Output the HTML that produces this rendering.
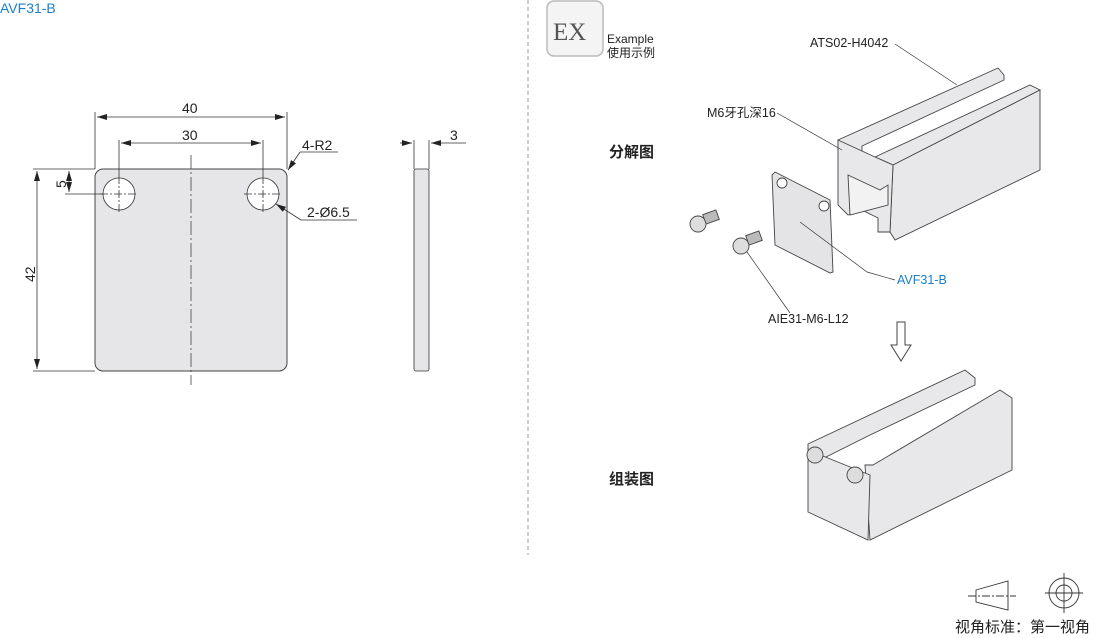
<!DOCTYPE html>
<html><head><meta charset="utf-8"><style>
html,body{margin:0;padding:0;background:#fff;}
svg{display:block;font-family:"Liberation Sans","Noto Sans CJK SC",sans-serif;}
</style></head><body>
<svg width="1110" height="638" viewBox="0 0 1110 638" xmlns="http://www.w3.org/2000/svg">
<defs>
<marker id="a" viewBox="0 0 10 6" refX="10" refY="3" markerWidth="10" markerHeight="6" orient="auto-start-reverse" markerUnits="userSpaceOnUse"><path d="M0,0L10,3L0,6z" fill="#222"/></marker>
</defs>
<text x="0" y="13" font-size="14" fill="#1a7fc8">AVF31-B</text>
<line x1="528" y1="0" x2="528" y2="555" stroke="#999" stroke-dasharray="4,3"/>
<rect x="95" y="169" width="192" height="202" rx="8" fill="#e6e6e8" stroke="#444" stroke-width="1"/>
<line x1="191" y1="155" x2="191" y2="385" stroke="#444" stroke-width="0.8" stroke-dasharray="14,3,2,3"/>
<g stroke="#333" stroke-width="0.8">
<circle cx="119" cy="194" r="16" fill="#fff"/><circle cx="263" cy="194" r="16" fill="#fff"/>
<line x1="100" y1="194" x2="138" y2="194" stroke-dasharray="8,2,2,2"/><line x1="119" y1="176" x2="119" y2="212" stroke-dasharray="8,2,2,2"/>
<line x1="244" y1="194" x2="282" y2="194" stroke-dasharray="8,2,2,2"/><line x1="263" y1="176" x2="263" y2="212" stroke-dasharray="8,2,2,2"/>
<line x1="95" y1="112" x2="95" y2="169"/><line x1="287" y1="112" x2="287" y2="169"/>
<line x1="97" y1="117" x2="285" y2="117" marker-start="url(#a)" marker-end="url(#a)"/>
<line x1="119" y1="140" x2="119" y2="176"/><line x1="263" y1="140" x2="263" y2="176"/>
<line x1="121" y1="143" x2="261" y2="143" marker-start="url(#a)" marker-end="url(#a)"/>
<line x1="33" y1="169" x2="95" y2="169"/><line x1="33" y1="371" x2="95" y2="371"/>
<line x1="37" y1="171" x2="37" y2="369" marker-start="url(#a)" marker-end="url(#a)"/>
<line x1="65" y1="194" x2="103" y2="194"/>
<line x1="69" y1="171" x2="69" y2="192" marker-start="url(#a)" marker-end="url(#a)"/>
<line x1="338" y1="152" x2="300" y2="152"/><line x1="300" y1="152" x2="288" y2="170" marker-end="url(#a)"/>
<line x1="357" y1="220" x2="301" y2="220"/><line x1="301" y1="220" x2="276" y2="204" marker-end="url(#a)"/>
<rect x="414" y="169" width="15" height="202" rx="2" fill="#e6e6e8"/>
<line x1="414" y1="140" x2="414" y2="169"/><line x1="429" y1="140" x2="429" y2="169"/>
<line x1="400" y1="143" x2="412" y2="143" marker-end="url(#a)"/><line x1="466" y1="143" x2="431" y2="143" marker-end="url(#a)"/>
</g>
<g font-size="14" fill="#222">
<text x="182" y="113">40</text><text x="182" y="140">30</text>
<text x="302" y="150">4-R2</text><text x="307" y="217">2-Ø6.5</text>
<text x="450" y="140">3</text>
<text transform="translate(35,282) rotate(-90)">42</text>
<text transform="translate(66,188) rotate(-90)">5</text>
</g>
<rect x="547" y="1" width="56" height="55" rx="7" fill="#f4f4f4" stroke="#bbb" stroke-width="1.5"/>
<text x="553" y="40" font-family="Liberation Serif,serif" font-size="25" fill="#555">EX</text>
<text x="607" y="43" font-size="12" fill="#222">Example</text>
<text x="607" y="57" font-size="12" fill="#222">使用示例</text>
<text x="609" y="157" font-size="15" font-weight="bold" fill="#222">分解图</text>
<text x="609" y="484" font-size="15" font-weight="bold" fill="#222">组装图</text>
<g stroke="#444" stroke-width="0.9" fill="#e8e8ea">
<polygon points="838,140 998,68 1004,75 1004,80 862,146 862,155 848,155 838,150"/>
<polygon points="875,157 1030,85 1040,90 893,165"/>
<polygon points="893,165 1040,90 1040,170 895,240 890,232"/>
<polygon points="838,140 875,157 893,165 890,232 878,232 878,218 862,210 848,215 838,205"/>
<polygon points="848,175 880,190 888,185 888,205 850,215" fill="#f2f2f2"/>
<polygon points="775,172 830,200 833,272 830,273 775,245 772,175" fill="#e4e4e6"/>
<circle cx="782" cy="183" r="5" fill="#fff"/><circle cx="824" cy="206" r="5" fill="#fff"/>
<circle cx="698" cy="224" r="8" fill="#ddd"/><rect x="704" y="212" width="14" height="10" fill="#bbb" transform="rotate(-20 711 217)"/>
<circle cx="741" cy="246" r="8" fill="#ddd"/><rect x="747" y="233" width="14" height="10" fill="#bbb" transform="rotate(-20 754 238)"/>
</g>
<g stroke="#333" stroke-width="0.7" fill="none">
<line x1="895" y1="44" x2="957" y2="85"/>
<line x1="777" y1="113" x2="842" y2="150"/>
<line x1="800" y1="222" x2="867" y2="272"/><line x1="867" y1="272" x2="895" y2="280"/>
<line x1="747" y1="252" x2="790" y2="313"/>
</g>
<g font-size="12.5" fill="#222">
<text x="810" y="47">ATS02-H4042</text>
<text x="707" y="117">M6牙孔深16</text>
<text x="897" y="284" fill="#1a7fc8">AVF31-B</text>
<text x="768" y="323">AIE31-M6-L12</text>
</g>
<polygon points="897,322 905,322 905,345 911,345 901,361 891,345 897,345" fill="#fff" stroke="#444"/>
<g stroke="#444" stroke-width="0.9" fill="#e8e8ea">
<polygon points="808,444 965,370 975,378 975,385 870,435 820,460 808,455"/>
<polygon points="873,465 1000,390 1012,398 1012,470 870,540 865,465"/>
<polygon points="808,450 870,475 868,540 808,512"/>
</g>
<g stroke="#444" stroke-width="0.9" fill="#ddd">
<circle cx="815" cy="455" r="8"/><circle cx="855" cy="475" r="8"/>
</g>
<g stroke="#333" stroke-width="0.9" fill="none">
<polygon points="976,590 1008,581 1008,610 976,602"/>
<line x1="968" y1="596" x2="1016" y2="596" stroke-dasharray="8,2,2,2"/>
<circle cx="1064" cy="593" r="15"/><circle cx="1064" cy="593" r="8"/>
<line x1="1045" y1="593" x2="1083" y2="593"/><line x1="1064" y1="573" x2="1064" y2="613"/>
</g>
<text x="955" y="632" font-size="15" fill="#222">视角标准：第一视角</text>
</svg>
</body></html>
